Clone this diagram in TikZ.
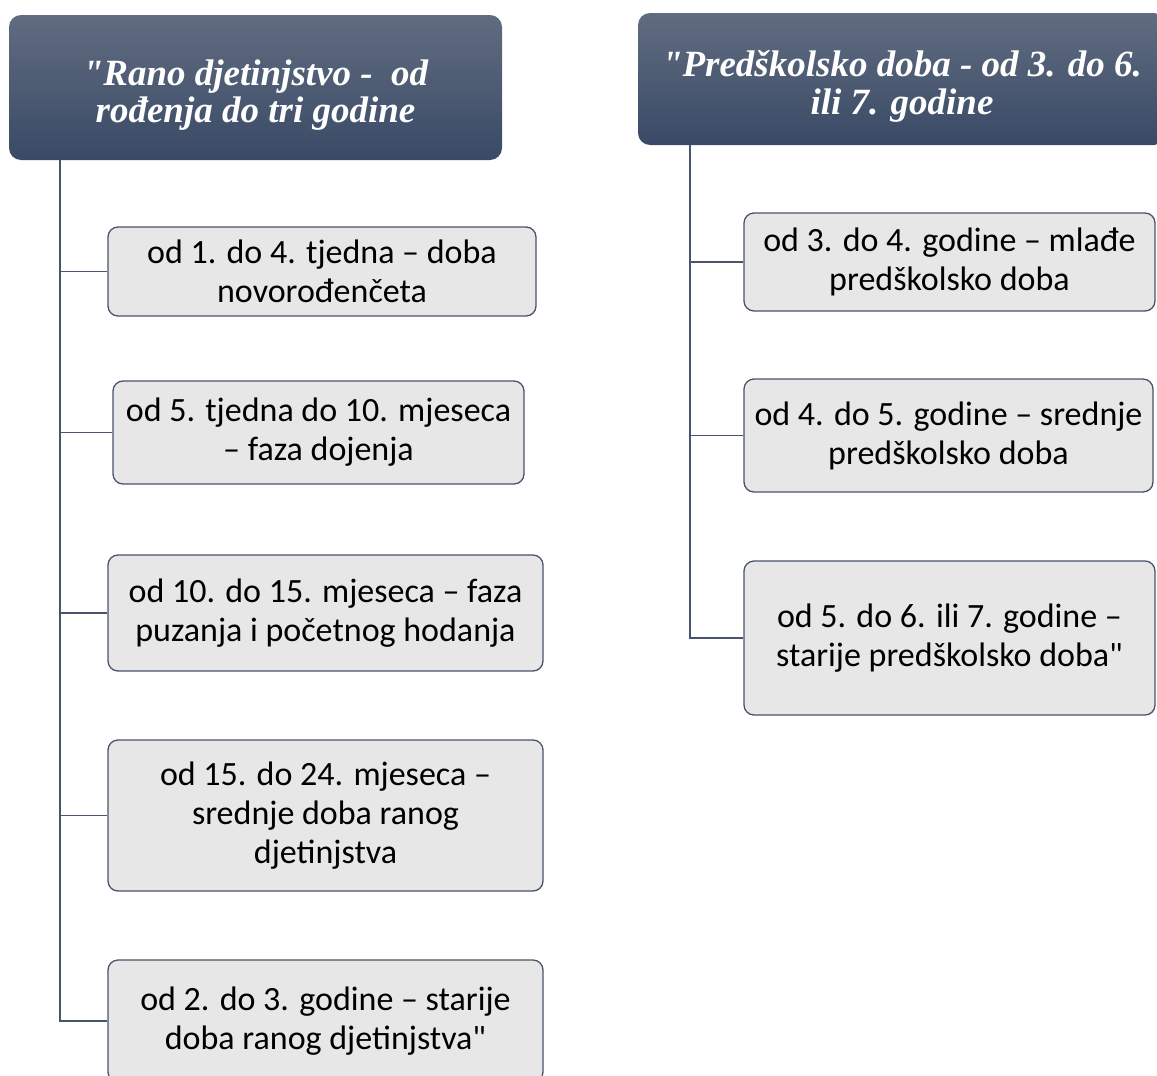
\documentclass[tikz,border=0pt]{standalone}
\usepackage{fontspec}
\setmainfont{Carlito}[Ligatures=TeXOff]
\newfontfamily\headfont{Liberation Serif}[Ligatures=TeXOff]
\definecolor{linecol}{RGB}{72,84,108}
\definecolor{boxgray}{RGB}{231,231,231}
\definecolor{headtop}{RGB}{96,108,128}
\definecolor{headbot}{RGB}{58,74,102}
\tikzset{
  stage/.style={draw=linecol, fill=boxgray, rounded corners=10pt, line width=1.3pt,
    align=center, inner sep=0pt, font=\fontsize{34}{39}\selectfont},
  period/.style={rounded corners=12pt, top color=headtop, bottom color=headbot,
    text=white, align=center, inner sep=0pt,
    font=\headfont\bfseries\itshape\fontsize{37}{37.5}\selectfont},
  link/.style={draw=linecol, line width=1.3pt}
}
\begin{document}
\begin{tikzpicture}[x=1pt,y=-1pt]

      \useasboundingbox (0,0) rectangle (1157,1076);
      \clip (0,0) rectangle (1157,1076);

      % headers
      \node[period, minimum width=493pt, minimum height=145pt] (early) at (255.5,87.5)
        {\rule{0pt}{41pt}"Rano djetinjstvo -\ \ od\\ rođenja do tri godine};
      \node[period, minimum width=528pt, minimum height=132pt] (preschool) at (902,79)
        {\rule{0pt}{41pt}"Predškolsko doba - od 3. do 6.\\ ili 7. godine};

      % stages
      \node[stage, minimum width=428pt, minimum height=89pt]  (e1) at (322,271.5)
        {od 1. do 4. tjedna – doba\\ novorođenčeta};
      \node[stage, minimum width=411pt, minimum height=103pt] (e2) at (318.5,432.5)
        {od 5. tjedna do 10. mjeseca\\ – faza dojenja};
      \node[stage, minimum width=435pt, minimum height=116pt] (e3) at (325.5,613)
        {od 10. do 15. mjeseca – faza\\ puzanja i početnog hodanja};
      \node[stage, minimum width=435pt, minimum height=151pt] (e4) at (325.5,815.5)
        {od 15. do 24. mjeseca –\\ srednje doba ranog\\ djetinjstva};
      \node[stage, minimum width=435pt, minimum height=122pt] (e5) at (325.5,1021)
        {od 2. do 3. godine – starije\\ doba ranog djetinjstva"};

      \node[stage, minimum width=411pt, minimum height=98pt]  (p1) at (949.5,262)
        {od 3. do 4. godine – mlađe\\ predškolsko doba};
      \node[stage, minimum width=409pt, minimum height=113pt] (p2) at (948.5,435.5)
        {od 4. do 5. godine – srednje\\ predškolsko doba};
      \node[stage, minimum width=411pt, minimum height=154pt] (p3) at (949.5,638)
        {od 5. do 6. ili 7. godine –\\ starije predškolsko doba"};

      \coordinate (etop) at (60,160);
      \coordinate (ptop) at (690,145);

      % connectors
      \begin{scope}[every edge/.style={link}]
        \draw[link] (etop) |- (e5.west);
        \path (etop |- e1.west) edge (e1.west);
        \path (etop |- e2.west) edge (e2.west);
        \path (etop |- e3.west) edge (e3.west);
        \path (etop |- e4.west) edge (e4.west);

        \draw[link] (ptop) |- (p3.west);
        \path (ptop |- p1.west) edge (p1.west);
        \path (ptop |- p2.west) edge (p2.west);
      \end{scope}

    \end{tikzpicture}
\end{document}
